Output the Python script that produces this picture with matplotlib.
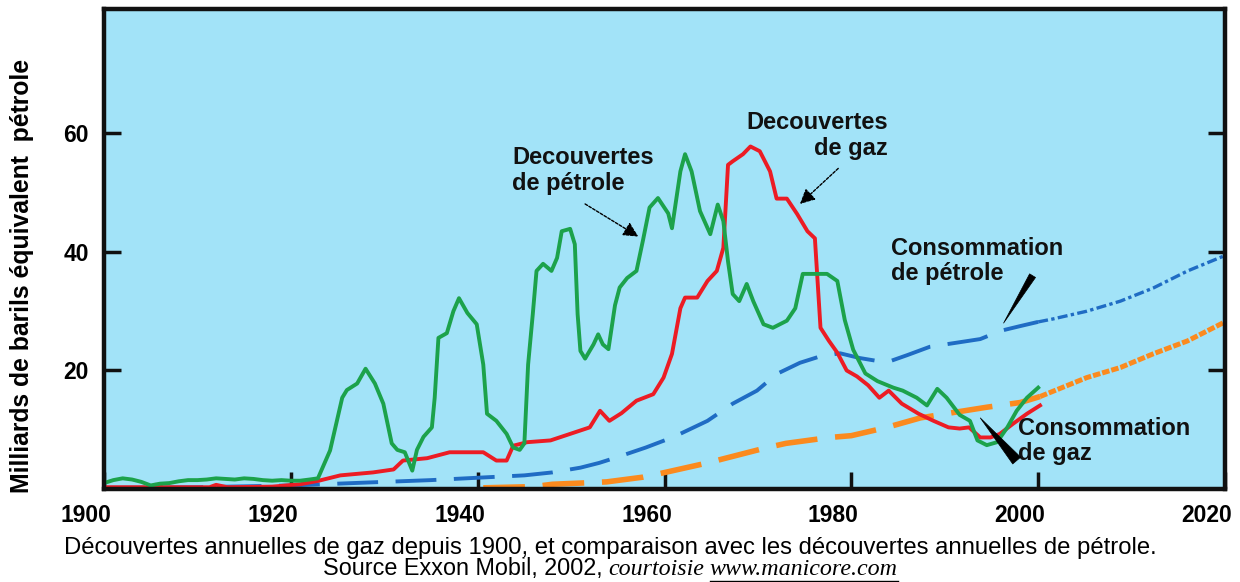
import numpy as np
import matplotlib
matplotlib.use("Agg")
import matplotlib.pyplot as plt
import matplotlib.transforms as mtransforms
from matplotlib.lines import Line2D

# oil discoveries (green)
oil_disc_years = [1900, 1901, 1902, 1903, 1904, 1905, 1906, 1907, 1908, 1909, 1910, 1911, 1912,
                  1913, 1914, 1915, 1916, 1917, 1918, 1919, 1920, 1921, 1922, 1922.9, 1924.2,
                  1925.5, 1926, 1927.1, 1928, 1929, 1929.9, 1930.8, 1931.4, 1932.2, 1933, 1933.5,
                  1934.2, 1935.1, 1935.4, 1935.8, 1936.7, 1937.4, 1938, 1938.9, 1939.9, 1940.6,
                  1941, 1942, 1943.1, 1943.8, 1944.5, 1945, 1945.4, 1945.9, 1946.3, 1947, 1947.9,
                  1948.5, 1949, 1949.9, 1950.4, 1950.7, 1951, 1951.5, 1952.4, 1952.9, 1953.4,
                  1954, 1954.7, 1955.2, 1956, 1957, 1957.7, 1958.4, 1959.3, 1960.4, 1960.8,
                  1961.7, 1962.2, 1962.9, 1963.8, 1964.9, 1965.7, 1966.3, 1966.8, 1967.3, 1968,
                  1968.8, 1969.5, 1970.6, 1971.6, 1973.1, 1974, 1974.8, 1977.4, 1978.5, 1979.3,
                  1980.2, 1981.5, 1982.8, 1984.5, 1985.5, 1987, 1988.1, 1989.2, 1990.2, 1991.6,
                  1992.7, 1993.5, 1994.5, 1995.6, 1996.7, 1997.7, 1998.8, 2000]
oil_disc = [1.0, 1.5, 1.8, 1.6, 1.2, 0.6, 0.9, 1.0, 1.3, 1.5, 1.5, 1.6, 1.8,
            1.7, 1.6, 1.8, 1.7, 1.5, 1.4, 1.5, 1.4, 1.4, 1.6, 1.8, 6.5,
            15.4, 16.7, 17.8, 20.3, 17.8, 14.4, 7.7, 6.6, 6.2, 3.1, 6.6,
            8.8, 10.4, 15.4, 25.5, 26.3, 30.0, 32.2, 29.7, 27.8, 21.0,
            12.7, 11.5, 9.3, 7.0, 6.6, 7.7, 21.0, 29.5, 36.8, 38.0, 36.8,
            39.0, 43.5, 43.9, 41.3, 29.5, 23.3, 22.0, 24.4, 26.1, 24.4,
            23.6, 31.0, 34.0, 35.6, 36.8, 42.0, 47.5, 49.1, 46.5, 44.0,
            53.6, 56.5, 53.6, 46.9, 43.0, 48.0, 45.2, 38.4, 32.9, 31.7,
            34.6, 31.7, 27.8, 27.2, 28.4, 30.5, 36.3, 36.3, 35.1, 28.5,
            23.5, 19.5, 18.2, 17.1, 16.6, 15.4, 14.1, 16.9, 15.4, 12.5,
            11.5, 8.2, 7.4, 7.9, 10.4, 13.2, 15.4, 17.1]

# gas discoveries (red)
gas_disc_years = [1900, 1905, 1905.5, 1906.3, 1911.3, 1912, 1913.2, 1918, 1921, 1923, 1925.3,
                  1928.8, 1931, 1932, 1934.6, 1937, 1940.6, 1942, 1943.1, 1943.8, 1945.3, 1947.8,
                  1949.9, 1952, 1953.1, 1954.1, 1955.4, 1957, 1958.8, 1959.9, 1960.8, 1961.7,
                  1962.2, 1963.5, 1964.6, 1965.6, 1966.3, 1966.8, 1967.3, 1968.4, 1969.2, 1970.2,
                  1971.3, 1972, 1973.1, 1974.2, 1975.3, 1976.1, 1976.7, 1977.6, 1978.5, 1979.5,
                  1980.6, 1981.8, 1983, 1984, 1985.4, 1987.2, 1988.8, 1990.4, 1991.6, 1992.6,
                  1993.8, 1994.9, 1995.9, 1997.3, 1998.8, 2000.2]
gas_disc = [0.3, 0.3, 0.7, 0.3, 0.3, 0.7, 0.3, 0.4, 0.8, 1.4, 2.3,
            2.8, 3.3, 4.8, 5.2, 6.2, 6.2, 4.8, 4.8, 7.3, 7.9, 8.2,
            9.3, 10.4, 13.2, 11.5, 12.8, 14.9, 16.0, 18.8, 22.8, 30.5,
            32.3, 32.3, 35.1, 36.8, 40.7, 54.7, 55.3, 56.5, 57.8, 57.0,
            53.6, 49.0, 49.0, 46.4, 43.5, 42.3, 27.2, 25.0, 23.0, 20.0,
            19.0, 17.5, 15.4, 16.6, 14.4, 12.7, 11.5, 10.4, 10.2, 10.4,
            8.7, 8.7, 9.3, 11.0, 12.7, 14.1]

# oil consumption (blue dashed, dotted after 2000)
oil_cons_years = [1900, 1910, 1920, 1925, 1930, 1935, 1940, 1945, 1948, 1951, 1953, 1955, 1958,
                  1961, 1964.6, 1967.3, 1969.9, 1972, 1974.5, 1976.7, 1978.8, 1980.9, 1982.8,
                  1984.2, 1986, 1988.4, 1990.9, 1993.8, 1996, 1998.1, 2000, 2001.6, 2005.2,
                  2008.8, 2012.3, 2016, 2020]
oil_cons = [0.2, 0.3, 0.6, 0.9, 1.2, 1.5, 1.9, 2.3, 2.8, 3.6, 4.4, 5.4, 7.0,
            8.8, 11.5, 14.4, 16.6, 19.4, 21.3, 22.4, 22.9, 22.1, 21.6,
            21.6, 22.6, 24.0, 24.6, 25.3, 26.7, 27.5, 28.2, 28.7, 30.0,
            31.7, 33.9, 36.8, 39.4]

# gas consumption (orange dashed, dotted after 2000)
gas_cons_years = [1940.6, 1946, 1948, 1951, 1953.8, 1957.7, 1959.5, 1964.6, 1966.3, 1971, 1973,
                  1977.7, 1980, 1983.8, 1987.4, 1990.9, 1994.5, 1998.1, 2000.2, 2005.2, 2008.8,
                  2012.3, 2016, 2020]
gas_cons = [0.2, 0.4, 0.8, 1.0, 1.2, 2.0, 2.6, 4.4, 5.1, 7.0, 7.7,
            8.7, 9.0, 10.4, 12.0, 12.9, 13.8, 14.6, 15.6, 18.8, 20.5,
            22.8, 25.0, 28.2]

split_year = 2000.5
x_ticks = [1900, 1920, 1940, 1960, 1980, 2000, 2020]
y_ticks = [20, 40, 60]

W, H = 1240, 582
fig = plt.figure(figsize=(W / 100, H / 100), dpi=100)
ax = fig.add_axes([104 / W, 1 - 489 / H, (1225 - 104) / W, (489 - 9) / H])
ax.set_facecolor("#a2e3f8")

blue = "#1f6cc4"
orange = "#fb8a1e"

def split(xs, ys):
    xs, ys = np.array(xs), np.array(ys)
    b = np.where(xs <= split_year)[0][-1]
    return xs[: b + 1], ys[: b + 1], xs[b:], ys[b:]

x1, y1, x2, y2 = split(oil_cons_years, oil_cons)
ax.plot(x1, y1, color=blue, lw=2.8, dashes=(10.5, 4.5))
ax.plot(x2, y2, color=blue, lw=2.4, dashes=(3, 1, 1, 1))

x1, y1, x2, y2 = split(gas_cons_years, gas_cons)
ax.plot(x1, y1, color=orange, lw=4, dashes=(7.5, 3.2))
ax.plot(x2, y2, color=orange, lw=3.6, dashes=(1.5, 0.4))

ax.plot(gas_disc_years, gas_disc, color="#ec1c24", lw=2.8)
ax.plot(oil_disc_years, oil_disc, color="#1ca24b", lw=2.8)

ax.set_xlim(1900, 2020)
ax.set_ylim(0, 81)

for s in ax.spines.values():
    s.set_linewidth(3.2)
    s.set_color("#111111")

ax.set_xticks(x_ticks, [str(t) for t in x_ticks])
ax.set_yticks(y_ticks, [str(t) for t in y_ticks])
ax.tick_params(direction="in", length=12, width=2.5, color="#111111", pad=11)
ax.tick_params(axis="y", right=True)
for lab in ax.get_xticklabels() + ax.get_yticklabels():
    lab.set_fontfamily("Liberation Sans")
    lab.set_fontweight("bold")
    lab.set_fontsize(16.5)
offset = mtransforms.ScaledTranslation(-0.18, 0, fig.dpi_scale_trans)
for lab in ax.get_xticklabels():
    lab.set_transform(lab.get_transform() + offset)

fig.text(22 / W, 1 - 276 / H, "Milliards de barils équivalent  pétrole", rotation=90,
         ha="center", va="center", fontsize=17.8, fontweight="bold", family="Liberation Sans")

lbl = dict(fontsize=17, fontweight="bold", family="Liberation Sans", color="#111111",
           va="center", linespacing=1.15)
ax.text(1943.7, 53.8, "Decouvertes\nde pétrole", ha="left", **lbl)
ax.text(1983.9, 59.7, "Decouvertes\nde gaz", ha="right", multialignment="right", **lbl)
ax.text(1984.2, 38.5, "Consommation\nde pétrole", ha="left", **lbl)
ax.text(1997.8, 8.1, "Consommation\nde gaz", ha="left", **lbl)

arr = dict(arrowstyle="-|>,head_length=0.9,head_width=0.45", color="black", lw=1,
           linestyle=(0, (2, 1.2)), shrinkA=0, shrinkB=0)
ax.annotate("", xy=(1957.2, 42.6), xytext=(1951.5, 48.1), arrowprops=arr)
ax.annotate("", xy=(1974.5, 48.1), xytext=(1978.6, 54.1), arrowprops=arr)
ax.annotate("", xy=(1996.3, 28.0), xytext=(1999.4, 36.0),
            arrowprops=dict(arrowstyle="wedge,tail_width=0.5", color="black", lw=0.5,
                            shrinkA=0, shrinkB=0))
ax.annotate("", xy=(1993.8, 12.0), xytext=(1997.7, 4.8),
            arrowprops=dict(arrowstyle="wedge,tail_width=0.75", color="black", lw=0.5,
                            shrinkA=0, shrinkB=0))

# caption
fig.text(610 / W, 1 - 554 / H,
         "Découvertes annuelles de gaz depuis 1900, et comparaison avec les découvertes annuelles de pétrole.",
         ha="center", va="baseline", fontsize=17.2, family="Liberation Sans")

base = 1 - 575 / H
r = fig.canvas.get_renderer()
t1 = fig.text(323 / W, base, "Source Exxon Mobil, 2002,", ha="left", va="baseline",
              fontsize=16.8, family="Liberation Sans")
b1 = t1.get_window_extent(r)
t2 = fig.text((b1.x1 + 6) / W, base, "courtoisie", ha="left", va="baseline",
              fontsize=17.3, family="Liberation Serif", style="italic")
b2 = t2.get_window_extent(r)
t3 = fig.text((b2.x1 + 5) / W, base, "www.manicore.com", ha="left", va="baseline",
              fontsize=17.3, family="Liberation Serif", style="italic")
b3 = t3.get_window_extent(r)
uy = 1 - 580.5 / H
fig.add_artist(Line2D([b3.x0 / W, b3.x1 / W], [uy, uy], transform=fig.transFigure,
                      color="black", lw=1))

fig.savefig("out.png", dpi=100, facecolor="white")
